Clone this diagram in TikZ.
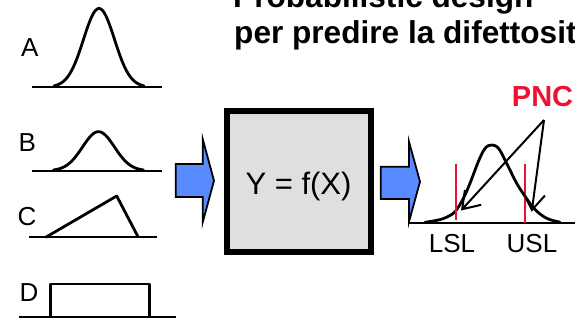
\documentclass[tikz,border=0pt]{standalone}
\usepackage{fontspec}
\setmainfont{Liberation Sans}
\usetikzlibrary{arrows.meta}
\definecolor{arrowblue}{RGB}{90,138,255}
\definecolor{boxgray}{RGB}{223,223,223}
\definecolor{pncred}{RGB}{238,18,50}
\tikzset{
  curve/.style={line width=2.8pt, line join=round, line cap=round},
  baseline/.style={line width=2pt},
  lbl/.style={font=\fontsize{26}{30}\selectfont, inner sep=0pt, anchor=base west},
  titletext/.style={font=\fontsize{31.6}{36}\selectfont\bfseries, inner sep=0pt, anchor=base west},
  blockarrow/.style={fill=arrowblue, draw=black, line width=1.8pt, line join=miter},
  speclimit/.style={draw=pncred, line width=2.8pt},
  pncarrow/.style={line width=2pt, -{Straight Barb[length=16pt,width=22pt]}},
  sysbox/.style={draw=black, line width=6pt, fill=boxgray, minimum width=144.5pt, minimum height=141pt, inner sep=0pt}
}
\begin{document}
\begin{tikzpicture}[x=1pt,y=-1pt]
\useasboundingbox (0,0) rectangle (575,328);
\clip (0,0) rectangle (575,328);
\fill[white] (0,0) rectangle (575,328);

% title
\node[titletext] (t1) at (233,7.5) {Probabilistic design};
\node[titletext] (t2) at (234,43.3) {per predire la difettosità};

% input distributions
\node[lbl] (la) at (21,57) {A};
\draw[baseline] (32,87) -- (162,87);
\draw[curve] plot[domain=-45:45, samples=90, smooth] ({99+\x},{87-78.5*exp(-(\x*\x)/(2*15.5*15.5))});

\node[lbl] (lb) at (18.5,151.7) {B};
\draw[baseline] (32,170.7) -- (162,170.7);
\draw[curve] plot[domain=-45:45, samples=90, smooth] ({98.5+\x},{170.7-39*exp(-(\x*\x)/(2*16*16))});

\node[lbl] (lc) at (17.5,226) {C};
\draw[baseline] (29,237.3) -- (157,237.3);
\draw[curve, line cap=butt] (45.7,237.3) -- (116.7,196) -- (138.3,237.3);

\node[lbl] (ld) at (19.5,301.7) {D};
\draw[baseline] (19,316.7) -- (175.7,316.7);
\draw[curve, line cap=butt] (50.7,316.7) -- (50.7,284) -- (149.3,284) -- (149.3,316.7);

% block arrows
\draw[blockarrow] (175.7,164) -- (202.7,164) -- (202.7,139) -- (214,180.7) -- (202.7,222.4) -- (202.7,197) -- (175.7,197) -- cycle;
\draw[blockarrow] (380.7,166.7) -- (409,166.7) -- (409,141.7) -- (420,181.7) -- (409,221.7) -- (409,199) -- (380.7,199) -- cycle;

% system box
\node[sysbox] (sys) at (298.75,181.5) {};
\node[font=\fontsize{31}{36}\selectfont, inner sep=0pt, anchor=base] (fx) at (298.5,194.3) {Y = f(X)};

% output distribution
\draw[baseline] (408,222.7) -- (575,222.7);
\draw[curve] plot[smooth, tension=0.6] coordinates {(425,222.3) (440,219.6) (450,215.5) (456,210.5) (463.3,198.5) (470,183.3) (478.3,161.7) (485,148.5) (491.7,145) (499,149) (508.3,166.7) (516.7,183.3) (525.3,196.7) (535,209.5) (546.7,218.3) (560,222.2)};
\draw[speclimit] (456,164) -- (456,220.5);
\draw[speclimit] (525,164) -- (525,223);
\node[lbl, anchor=base] (lsl) at (452,252.7) {LSL};
\node[lbl, anchor=base] (usl) at (532,252.7) {USL};

% PNC
\node[font=\fontsize{29}{32}\selectfont\bfseries, text=pncred, inner sep=0pt, anchor=base west] (pnc) at (511.7,107) {PNC};
\coordinate (pncsrc) at (544,120);
\coordinate (lslhit) at (461,210.5);
\coordinate (uslhit) at (531.7,211.7);
\draw[pncarrow] (pncsrc) -- (lslhit);
\draw[pncarrow] (pncsrc) -- (uslhit);
\end{tikzpicture}
\end{document}
